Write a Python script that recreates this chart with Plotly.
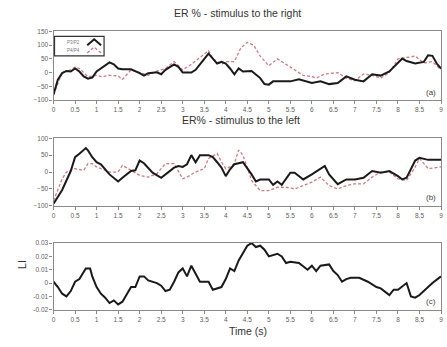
import plotly.graph_objects as go

# --- Panel (a): ER % with stimulus to the right ---
t_a_p3 = [0, 0.1, 0.2, 0.3, 0.4, 0.5, 0.6, 0.7, 0.8, 0.9, 1.0, 1.1, 1.2, 1.3, 1.4, 1.5, 1.6, 1.8,
          2.0, 2.1, 2.2, 2.4, 2.5, 2.6, 2.8, 2.9, 3.0, 3.2, 3.3, 3.5, 3.6, 3.7, 3.8, 3.9, 4.0, 4.1,
          4.2, 4.3, 4.4, 4.6, 4.8, 4.9, 5.0, 5.1, 5.5, 5.7, 5.9, 6.0, 6.2, 6.4, 6.6, 6.8, 7.0, 7.2,
          7.4, 7.6, 7.8, 8.0, 8.1, 8.2, 8.4, 8.6, 8.7, 8.8, 8.9, 9.0]
er_right_p3 = [-80, -26, -2, 6, 4, 15, 4, -14, -22, -18, 4, 15, 27, 37, 30, 15, 12, 12,
               -2, -11, -2, 1, -6, 10, 30, 21, 0, 0, 10, 51, 69, 51, 33, 39, 33, 15,
               -6, 15, 4, 6, -20, -42, -44, -32, -32, -24, -32, -38, -32, -42, -38, -14, -26, -32,
               -6, -11, 4, 33, 51, 42, 33, 39, 63, 61, 33, 15]

t_a_p4 = [0, 0.2, 0.4, 0.5, 0.6, 0.8, 1.0, 1.1, 1.3, 1.5, 1.6, 1.8, 2.0, 2.2, 2.4, 2.6, 2.8, 3.0,
          3.2, 3.4, 3.6, 3.7, 3.9, 4.0, 4.2, 4.35, 4.5, 4.65, 4.8, 5.0, 5.2, 5.4, 5.6, 5.8, 6.0, 6.1,
          6.3, 6.6, 6.8, 7.0, 7.2, 7.4, 7.6, 7.8, 8.0, 8.2, 8.4, 8.6, 8.8, 9.0]
er_right_p4 = [-80, 0, 10, 20, 15, -15, -10, -15, -10, -12, -25, 10, 0, -10, 5, 15, 40, 10,
               30, 55, 80, 50, 30, 40, 40, 90, 110, 100, 60, 25, 50, 30, 10, -10, -15, -20,
               -5, 0, -20, -30, -5, -10, -20, 0, 50, 55, 60, 35, 40, 10]

# --- Panel (b): ER % with stimulus to the left ---
t_b_p3 = [0, 0.2, 0.4, 0.5, 0.6, 0.7, 0.75, 0.8, 0.9, 1.0, 1.1, 1.3, 1.5, 1.6, 1.8, 1.9, 2.0, 2.1,
          2.3, 2.5, 2.6, 2.8, 2.9, 3.0, 3.1, 3.2, 3.3, 3.4, 3.6, 3.7, 3.8, 3.9, 4.0, 4.1, 4.2, 4.4,
          4.6, 4.7, 4.8, 5.0, 5.1, 5.2, 5.3, 5.5, 5.6, 5.8, 6.0, 6.3, 6.4, 6.6, 6.8, 7.0, 7.2, 7.4,
          7.6, 7.8, 8.0, 8.1, 8.2, 8.4, 8.5, 8.7, 9.0]
er_left_p3 = [-94, -53, 3, 44, 54, 64, 71, 64, 44, 29, 23, -7, -28, -17, 3, 5, 34, 26,
              -2, -17, -7, 13, 18, 15, 23, 50, 29, 50, 50, 44, 29, 13, -12, 8, 23, 29,
              -7, -28, -22, -22, -38, -28, -38, -2, -2, -22, -7, 18, -7, -36, -22, -22, -17, 3,
              -2, 3, -12, -22, -17, 34, 42, 36, 36]

t_b_p4 = [0, 0.2, 0.3, 0.5, 0.7, 0.8, 0.9, 1.0, 1.3, 1.5, 1.6, 1.8, 2.0, 2.2, 2.4, 2.6, 2.8, 3.0,
          3.1, 3.3, 3.5, 3.6, 3.8, 3.9, 4.0, 4.1, 4.2, 4.3, 4.4, 4.6, 4.8, 5.0, 5.2, 5.4, 5.6, 5.8,
          6.0, 6.2, 6.4, 6.6, 6.8, 7.0, 7.2, 7.4, 7.6, 7.8, 8.0, 8.2, 8.4, 8.5, 8.7, 9.0]
er_left_p4 = [-85, -20, 0, 10, 5, 25, 25, 15, 0, 0, 20, 5, -10, -15, -5, 25, 25, -20,
              -15, 0, 10, 40, 55, 30, 10, 15, 25, 65, 50, -25, -55, -55, -45, -45, -50, -40,
              -30, -15, -40, -50, -40, -35, -35, -15, 0, 0, -20, -25, 15, 40, 10, 15]

# --- Panel (c): lateralization index ---
t_c = [0, 0.1, 0.2, 0.3, 0.4, 0.5, 0.6, 0.7, 0.75, 0.85, 0.9, 1.0, 1.1, 1.2, 1.3, 1.4, 1.5, 1.6,
       1.7, 1.8, 1.9, 2.0, 2.1, 2.2, 2.4, 2.5, 2.6, 2.7, 2.8, 2.9, 3.0, 3.1, 3.2, 3.3, 3.4, 3.6,
       3.7, 3.9, 4.0, 4.1, 4.2, 4.3, 4.4, 4.5, 4.6, 4.7, 4.8, 4.9, 5.0, 5.1, 5.2, 5.3, 5.4, 5.5,
       5.7, 5.9, 6.0, 6.1, 6.2, 6.4, 6.5, 6.6, 6.7, 6.8, 6.9, 7.1, 7.3, 7.5, 7.6, 7.8, 7.9, 8.0,
       8.2, 8.3, 8.4, 8.5, 8.6, 8.8, 9.0]
li = [0.001, -0.003, -0.008, -0.010, -0.006, 0.001, 0.003, 0.008, 0.011, 0.011, 0.005, -0.003,
      -0.008, -0.011, -0.015, -0.013, -0.016, -0.014, -0.009, -0.003, -0.003, 0.005, 0.005, 0.002,
      0.0, -0.002, -0.006, -0.005, 0.001, 0.008, 0.011, 0.005, 0.013, 0.007, 0.001, 0.001,
      -0.005, -0.003, 0.003, 0.011, 0.009, 0.017, 0.022, 0.028, 0.030, 0.027, 0.028, 0.025,
      0.020, 0.021, 0.022, 0.020, 0.015, 0.016, 0.015, 0.010, 0.013, 0.009, 0.013, 0.014,
      0.009, 0.006, 0.001, 0.003, 0.004, 0.004, 0.001, -0.003, -0.004, -0.009, -0.005, -0.005,
      0.0, -0.010, -0.011, -0.009, -0.006, 0.0, 0.005]

legend_names = ["P3/P2", "P4/P4"]
x_ticks = [0, 0.5, 1, 1.5, 2, 2.5, 3, 3.5, 4, 4.5, 5, 5.5, 6, 6.5, 7, 7.5, 8, 8.5, 9]
y_ticks_a = [150, 100, 50, 0, -50, -100]
y_ticks_b = [100, 50, 0, -50, -100]
y_ticks_c = [0.03, 0.02, 0.01, 0, -0.01, -0.02]
y_text_c = ["0.03", "0.02", "0.01", "0", "-0.01", "-0.02"]

BLACK = "#1a1a1a"
RED = "#d27a82"
AXIS = "#8a8a8a"
FONT = "Liberation Sans, Arial, sans-serif"
TICKFONT = dict(family=FONT, size=6.5, color="#606060")
DASH = "3px,2px"

W, H = 447, 347
xdom = [52 / W, 443 / W]
dom_a = [1 - 98 / H, 1 - 28 / H]
dom_b = [1 - 206 / H, 1 - 137 / H]
dom_c = [1 - 312 / H, 1 - 244 / H]

fig = go.Figure()

fig.add_trace(go.Scatter(x=t_a_p4, y=er_right_p4, mode="lines", name=legend_names[1],
                         line=dict(color=RED, width=1.3, dash=DASH), xaxis="x", yaxis="y"))
fig.add_trace(go.Scatter(x=t_a_p3, y=er_right_p3, mode="lines", name=legend_names[0],
                         line=dict(color=BLACK, width=2), xaxis="x", yaxis="y"))
fig.add_trace(go.Scatter(x=t_b_p4, y=er_left_p4, mode="lines",
                         line=dict(color=RED, width=1.3, dash=DASH), xaxis="x2", yaxis="y2"))
fig.add_trace(go.Scatter(x=t_b_p3, y=er_left_p3, mode="lines",
                         line=dict(color=BLACK, width=2), xaxis="x2", yaxis="y2"))
fig.add_trace(go.Scatter(x=t_c, y=li, mode="lines",
                         line=dict(color=BLACK, width=2), xaxis="x3", yaxis="y3"))

xax = dict(range=[0, 9], domain=xdom, tickvals=x_ticks, ticks="outside", ticklen=3,
           tickcolor=AXIS, showline=True, linecolor=AXIS, linewidth=1.2, mirror=True,
           showgrid=False, zeroline=False, tickfont=TICKFONT)
yax = dict(ticks="outside", ticklen=3, tickcolor=AXIS, showline=True, linecolor=AXIS,
           linewidth=1.2, mirror=True, showgrid=False, zeroline=False, tickfont=TICKFONT)

fig.update_layout(
    width=W, height=H,
    margin=dict(l=0, r=0, t=0, b=0),
    paper_bgcolor="white", plot_bgcolor="white",
    showlegend=False,
    xaxis=dict(xax, anchor="y"),
    yaxis=dict(yax, domain=dom_a, range=[-100, 150], tickvals=y_ticks_a, anchor="x"),
    xaxis2=dict(xax, anchor="y2"),
    yaxis2=dict(yax, domain=dom_b, range=[-100, 100], tickvals=y_ticks_b, anchor="x2"),
    xaxis3=dict(xax, anchor="y3"),
    yaxis3=dict(yax, domain=dom_c, range=[-0.02, 0.03], tickvals=y_ticks_c,
                ticktext=y_text_c, anchor="x3"),
)

# compact key box in the top-left corner of panel (a)
def px(x):
    return x / W

def py(y):
    return 1 - y / H

fig.add_shape(type="rect", xref="paper", yref="paper",
              x0=px(53), x1=px(103), y0=py(53), y1=py(33),
              line=dict(color="#333333", width=1.2), fillcolor="white")
key_rows = [(legend_names[0], 39, BLACK, 2, "solid"), (legend_names[1], 47, RED, 1.3, DASH)]
for name, yy, col, wd, ds in key_rows:
    fig.add_annotation(text=name, x=px(72), y=py(yy), xref="paper", yref="paper",
                       showarrow=False, xanchor="center", yanchor="middle",
                       font=dict(family=FONT, size=4.5, color="#777777"))
    fig.add_shape(type="path", xref="paper", yref="paper",
                  path=f"M {px(86)} {py(yy + 3)} L {px(93)} {py(yy - 3)} L {px(100)} {py(yy + 3)}",
                  line=dict(color=col, width=wd, dash=ds))

ann = [
    dict(text="ER % - stimulus to the right", x=238 / W, y=1 - 9 / H, size=10.5),
    dict(text="ER% - stimulus to the left", x=241 / W, y=1 - 118 / H, size=10.5),
    dict(text="Time (s)", x=248 / W, y=1 - 334 / H, size=10.5),
]
for a in ann:
    fig.add_annotation(text=a["text"], x=a["x"], y=a["y"], xref="paper", yref="paper",
                       showarrow=False, xanchor="center", yanchor="middle",
                       font=dict(family=FONT, size=a["size"], color="#333333"))

fig.add_annotation(text="LI", x=12 / W, y=1 - 272 / H, xref="paper", yref="paper",
                   showarrow=False, textangle=-90,
                   font=dict(family=FONT, size=10.5, color="#333333"))

for label, yy in [("(a)", 90), ("(b)", 197), ("(c)", 304)]:
    fig.add_annotation(text=label, x=440 / W, y=1 - yy / H, xref="paper", yref="paper",
                       showarrow=False, xanchor="right", yanchor="middle",
                       font=dict(family=FONT, size=8, color="#444444"))

fig.write_html("out.html")
